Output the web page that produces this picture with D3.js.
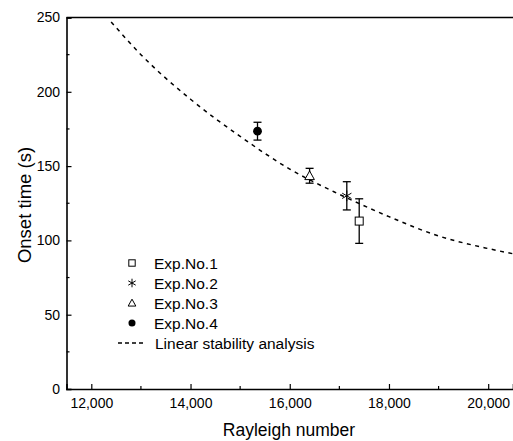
<!DOCTYPE html>
<html lang="en">
<head>
  <meta charset="UTF-8">
  <script src="https://d3js.org/d3.v7.min.js"></script>
  <title>Onset time vs Rayleigh number</title>
  <style>
    body { margin: 0; background: #fff; }
    text { font-family: "Liberation Sans", Arial, sans-serif; fill: #000; }
  </style>
</head>
<body>
  <svg id="chart" width="513" height="441"></svg>
  <script>
    // experiments: Rayleigh number, onset time, error
    const expNames = ["Exp.No.1", "Exp.No.2", "Exp.No.3", "Exp.No.4"];
    const expRa = [17400, 17150, 16400, 15350];
    const expTime = [113, 130, 143.5, 173.5];
    const expErr = [15, 9.5, 5, 6];

    // linear stability analysis curve
    const lsaRa = [12400, 13000, 14000, 15000, 16000, 17000, 18000, 19000, 20000, 20500];
    const lsaTime = [247, 225, 195, 170, 148, 131, 116, 103, 94.5, 91];

    const xTicks = [12000, 14000, 16000, 18000, 20000];
    const xMinor = [13000, 15000, 17000, 19000];
    const yTicks = [0, 50, 100, 150, 200, 250];
    const yMinor = [25, 75, 125, 175, 225];

    const svg = d3.select("#chart");
    const mLeft = 66.5, mRight = 513, mTop = 17.5, mBottom = 389;

    const x = d3.scaleLinear().domain([11500, 20500]).range([mLeft, mRight]);
    const y = d3.scaleLinear().domain([0, 250]).range([mBottom, mTop]);

    // axes - ticks point inwards
    const xAxis = d3.axisBottom(x).tickValues(xTicks).tickSize(-5).tickPadding(9)
      .tickFormat(d3.format(","));
    const gx = svg.append("g").attr("transform", `translate(0,${mBottom})`).call(xAxis);
    gx.selectAll(".minor").data(xMinor).enter().append("line").attr("class", "minor")
      .attr("x1", d => x(d)).attr("x2", d => x(d)).attr("y1", 0).attr("y2", -3)
      .attr("stroke", "#000").attr("stroke-width", 1.2);

    const yAxis = d3.axisLeft(y).tickValues(yTicks).tickSize(-5).tickPadding(6.5);
    const gy = svg.append("g").attr("transform", `translate(${mLeft},0)`).call(yAxis);
    gy.selectAll(".minor").data(yMinor).enter().append("line").attr("class", "minor")
      .attr("y1", d => y(d)).attr("y2", d => y(d)).attr("x1", 0).attr("x2", 3)
      .attr("stroke", "#000").attr("stroke-width", 1.2);

    [gx, gy].forEach(g => {
      g.select(".domain").attr("stroke-width", 1.6);
      g.selectAll(".tick line").attr("stroke-width", 1.2);
      g.selectAll(".tick text").attr("font-size", 14).attr("font-family", "Liberation Sans, Arial, sans-serif");
    });

    // top frame line
    svg.append("line").attr("x1", mLeft).attr("x2", mRight).attr("y1", y(250)).attr("y2", y(250))
      .attr("stroke", "#000").attr("stroke-width", 1.6);

    // axis titles
    svg.append("text").attr("x", 289).attr("y", 436)
      .attr("text-anchor", "middle").attr("font-size", 17.5).text("Rayleigh number");
    svg.append("text").attr("transform", "translate(31,205) rotate(-90)")
      .attr("text-anchor", "middle").attr("font-size", 18.5).text("Onset time (s)");

    // dashed curve
    const lsa = lsaRa.map((r, i) => ({ra: r, t: lsaTime[i]}));
    svg.append("path").datum(lsa)
      .attr("d", d3.line().x(d => x(d.ra)).y(d => y(d.t)).curve(d3.curveMonotoneX))
      .attr("fill", "none").attr("stroke", "#000").attr("stroke-width", 1.5)
      .attr("stroke-dasharray", "4,4.5");

    const exps = expNames.map((n, i) => ({name: n, ra: expRa[i], t: expTime[i], e: expErr[i], k: i}));

    function marker(g, k, s) {
      if (k === 0) {
        g.append("rect").attr("x", -s).attr("y", -s).attr("width", 2 * s).attr("height", 2 * s)
          .attr("fill", "#fff").attr("stroke", "#000").attr("stroke-width", 1);
      } else if (k === 1) {
        const st = d3.symbol().type(d3.symbolAsterisk).size(s * s * 5);
        g.append("path").attr("d", st()).attr("fill", "none").attr("stroke", "#000").attr("stroke-width", 1);
      } else if (k === 2) {
        const h = s * 1.2;
        g.append("path").attr("d", `M0,${-h}L${h},${h * 0.8}L${-h},${h * 0.8}Z`)
          .attr("fill", "#fff").attr("stroke", "#000").attr("stroke-width", 1);
      } else {
        g.append("circle").attr("r", s * 1.1).attr("fill", "#000");
      }
    }

    // error bars
    const eb = svg.append("g").attr("stroke", "#000").attr("stroke-width", 1.3);
    exps.forEach(d => {
      eb.append("line").attr("x1", x(d.ra)).attr("x2", x(d.ra)).attr("y1", y(d.t - d.e)).attr("y2", y(d.t + d.e));
      [d.t - d.e, d.t + d.e].forEach(v => {
        eb.append("line").attr("x1", x(d.ra) - 4).attr("x2", x(d.ra) + 4).attr("y1", y(v)).attr("y2", y(v));
      });
    });

    // points
    exps.forEach(d => {
      const g = svg.append("g").attr("transform", `translate(${x(d.ra)},${y(d.t)})`);
      marker(g, d.k, 4);
    });

    // legend
    const leg = svg.append("g");
    exps.forEach((d, i) => {
      const yy = 263 + i * 20;
      const g = leg.append("g").attr("transform", `translate(132,${yy})`);
      marker(g, d.k, 3.2);
      leg.append("text").attr("x", 154).attr("y", yy + 5.5).attr("font-size", 15.5).text(d.name);
    });
    leg.append("line").attr("x1", 118).attr("x2", 146).attr("y1", 343).attr("y2", 343)
      .attr("stroke", "#000").attr("stroke-width", 1.4).attr("stroke-dasharray", "4,3");
    leg.append("text").attr("x", 155).attr("y", 348.5).attr("font-size", 15.5).text("Linear stability analysis");
  </script>
</body>
</html>
